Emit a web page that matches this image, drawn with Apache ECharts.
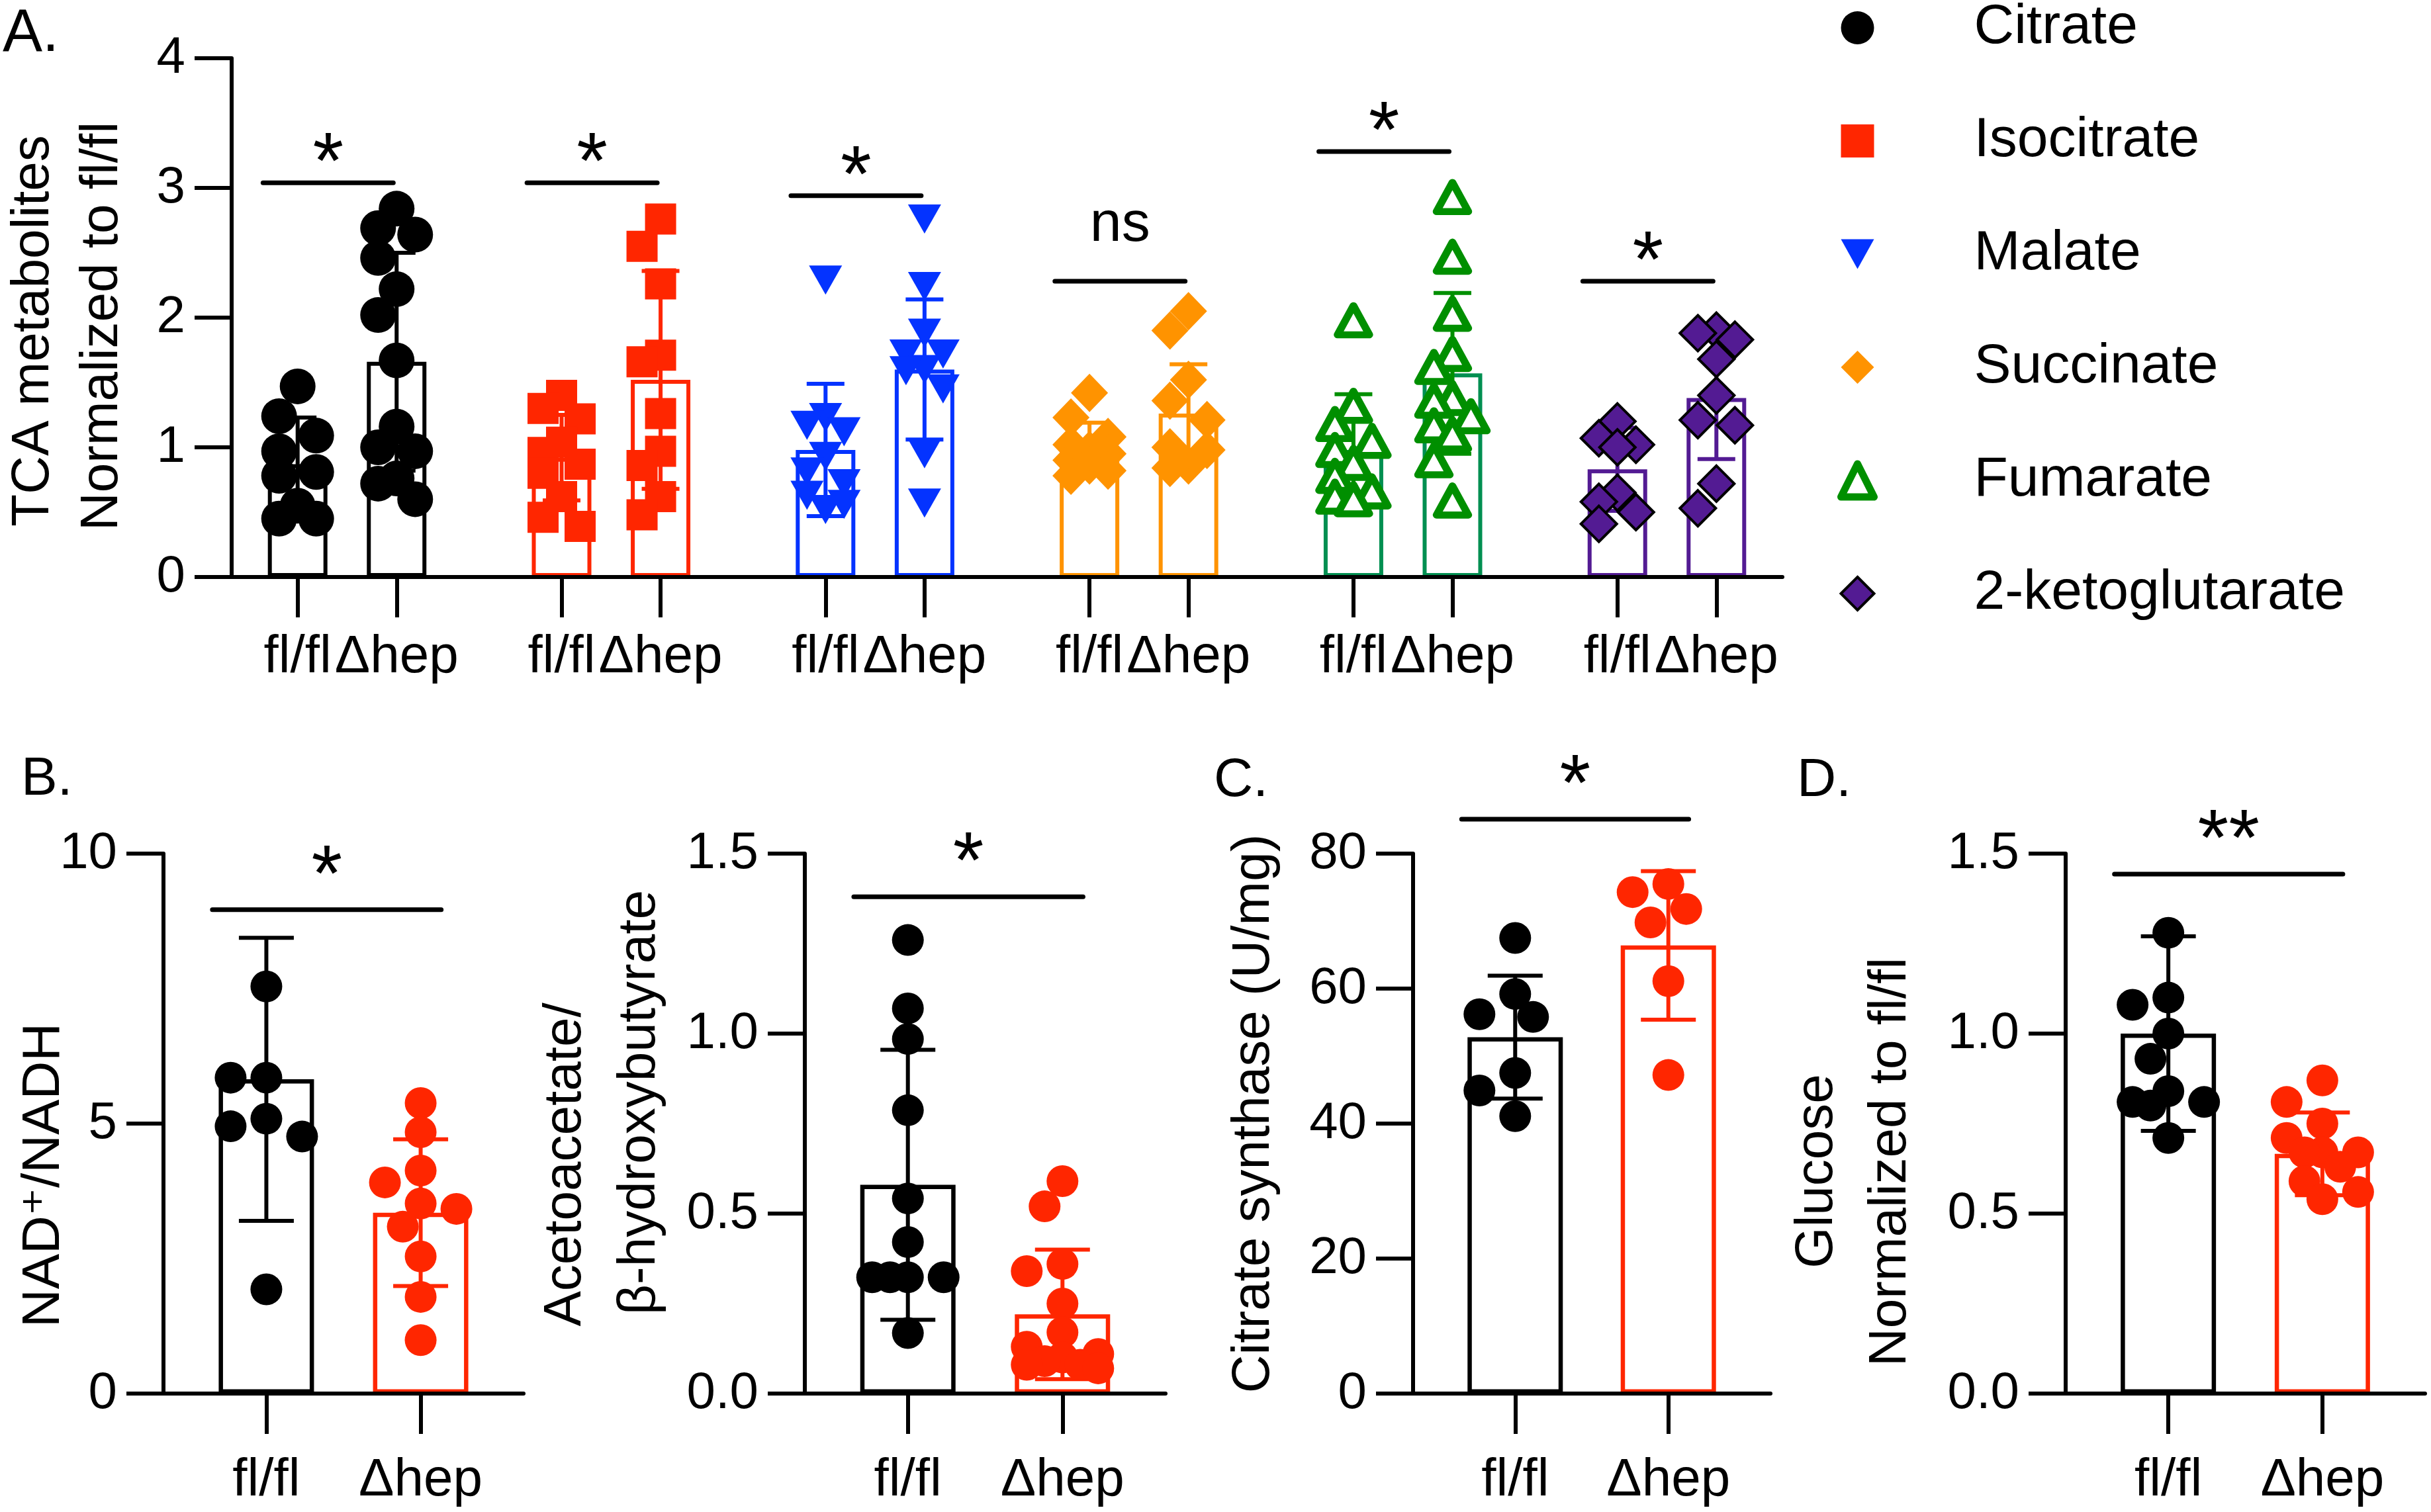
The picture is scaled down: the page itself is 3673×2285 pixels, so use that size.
<!DOCTYPE html>
<html>
<head>
<meta charset="utf-8">
<script src="https://cdn.jsdelivr.net/npm/echarts@6/dist/echarts.min.js"></script>
<style>
html, body { margin: 0; padding: 0; background: #fff; }
#charts { width: 3673px; height: 2285px; }
</style>
</head>
<body>
<div id="charts"></div>
<script>
// categories
var metabolites = ['Citrate', 'Isocitrate', 'Malate', 'Succinate', 'Fumarate', '2-ketoglutarate'];
var genotypes = ['fl/fl', 'Δhep'];

// A. TCA metabolites, normalized to fl/fl (single animals)
var citrateFl = [1.47, 1.24, 1.09, 0.97, 0.81, 0.78, 0.55, 0.45, 0.45];
var citrateHep = [2.84, 2.69, 2.64, 2.46, 2.22, 2.02, 1.67, 1.16, 1.00, 0.97, 0.76, 0.72, 0.60];
var isocitrateFl = [1.40, 1.30, 1.22, 1.04, 0.96, 0.87, 0.80, 0.62, 0.46, 0.39];
var isocitrateHep = [2.76, 2.55, 2.26, 1.71, 1.66, 1.26, 0.97, 0.86, 0.62, 0.48];
var malateFl = [2.29, 1.23, 1.17, 1.12, 0.93, 0.81, 0.72, 0.63, 0.56, 0.52];
var malateHep = [2.76, 2.24, 1.88, 1.72, 1.72, 1.60, 1.59, 1.45, 0.95, 0.57];
var succinateFl = [1.42, 1.23, 1.08, 1.02, 0.98, 0.95, 0.90, 0.86, 0.82, 0.78];
var succinateHep = [2.05, 1.90, 1.52, 1.36, 1.21, 1.00, 0.98, 0.86, 0.84];
var fumarateFl = [1.98, 1.32, 1.18, 1.05, 0.98, 0.88, 0.78, 0.66, 0.62, 0.60];
var fumarateHep = [2.93, 2.47, 2.03, 1.72, 1.62, 1.38, 1.36, 1.24, 1.17, 1.10, 0.90, 0.59];
var ketoFl = [1.20, 1.07, 1.02, 1.00, 0.65, 0.58, 0.50, 0.41];
var ketoHep = [1.90, 1.88, 1.83, 1.68, 1.40, 1.21, 1.17, 0.72, 0.53];
// bar heights (mean) and error bars (SD)
var tcaMeanFl = [0.87, 0.92, 0.98, 0.99, 0.98, 0.83];
var tcaMeanHep = [1.66, 1.52, 1.60, 1.26, 1.57, 1.38];
var tcaSdFl = [0.36, 0.33, 0.51, 0.20, 0.43, 0.32];
var tcaSdHep = [0.84, 0.84, 0.54, 0.38, 0.62, 0.47];
var tcaSigY = [3.04, 3.04, 2.94, 2.28, 3.28, 2.28];
var tcaSigText = ['*', '*', '*', 'ns', '*', '*'];
var tcaTicks = [0, 1, 2, 3, 4];

// B. NAD+/NADH
var nadFl = [7.54, 5.85, 5.85, 5.09, 4.95, 4.76, 1.93];
var nadHep = [5.38, 4.84, 4.13, 3.91, 3.52, 3.42, 3.09, 2.54, 1.79, 0.99];
var nadMean = [5.82, 3.35];
var nadSd = [2.62, 1.36];
var nadSigY = 8.96;
var nadTicks = [0, 5, 10];

// B. acetoacetate / beta-hydroxybutyrate
var ketoneFl = [1.26, 1.07, 0.985, 0.787, 0.542, 0.421, 0.323, 0.323, 0.323, 0.323, 0.168];
var ketoneHep = [0.59, 0.52, 0.36, 0.34, 0.25, 0.17, 0.13, 0.11, 0.10, 0.09, 0.08, 0.08, 0.07];
var ketoneMean = [0.58, 0.22];
var ketoneSd = [0.375, 0.18];
var ketoneSigY = 1.38;
var ketoneTicks = [0, 0.5, 1.0, 1.5];

// C. citrate synthase (U/mg)
var csFl = [67.5, 59.2, 56.2, 55.8, 47.5, 44.9, 41.1];
var csHep = [75.5, 74.3, 71.8, 69.8, 61.1, 47.2];
var csMean = [52.8, 66.4];
var csSd = [9.1, 11.0];
var csSigY = 85.1;
var csTicks = [0, 20, 40, 60, 80];

// D. glucose, normalized to fl/fl
var gluFl = [1.28, 1.10, 1.08, 1.00, 0.93, 0.84, 0.81, 0.81, 0.80, 0.71];
var gluHep = [0.87, 0.81, 0.75, 0.71, 0.67, 0.67, 0.67, 0.63, 0.59, 0.56, 0.54];
var gluMean = [1.00, 0.666];
var gluSd = [0.27, 0.115];
var gluSigY = 1.443;
var gluTicks = [0, 0.5, 1.0, 1.5];

var fam = '"Liberation Sans", Arial, Helvetica, "DejaVu Sans", sans-serif';
var barColors = ['#000000', '#FF2600', '#0433FF', '#FF9300', '#008F51', '#531B93'];
var dotColors = ['#000000', '#FF2600', '#0433FF', '#FF9300', '#008F00', '#531B93'];
var lowColors = ['#000000', '#FF2600'];

var gridRects = [
    { left: 350, top: 88, width: 2343, height: 784 },
    { left: 247, top: 1290, width: 544, height: 816 },
    { left: 1216, top: 1290, width: 545, height: 816 },
    { left: 2135, top: 1290, width: 540, height: 816 },
    { left: 3121, top: 1290, width: 543, height: 816 }
];

// category slots: fl/fl at 2 + 8k, Δhep at 5 + 8k
var catsA = [];
for (var i = 0; i < 48; i++) catsA.push('');
metabolites.forEach(function (m, k) { catsA[2 + 8 * k] = genotypes[0]; catsA[5 + 8 * k] = genotypes[1]; });
var catsLow = ['', '', genotypes[0], '', '', genotypes[1], '', ''];

// spread points sideways so they do not sit on top of each other
function swarm(values, pxPerVal, d, step, maxSteps) {
    var placed = [];
    return values.map(function (v) {
        var y = v * pxPerVal, best = 0, bestGap = -1, cands = [0];
        for (var k = 1; k <= maxSteps; k++) cands.push(-k * step, k * step);
        for (var c = 0; c < cands.length; c++) {
            var gap = Infinity;
            placed.forEach(function (p) { gap = Math.min(gap, Math.hypot(p[0] - cands[c], p[1] - y)); });
            if (gap >= d * 0.9) { best = cands[c]; break; }
            if (gap > bestGap) { bestGap = gap; best = cands[c]; }
        }
        placed.push([best, y]);
        return best;
    });
}

function points(values, slot, grid, nCats, ticks, d, step, maxSteps) {
    var pxY = grid.height / (ticks[ticks.length - 1] - ticks[0]);
    var pxX = grid.width / (nCats - 1);
    var offs = swarm(values, pxY, d, step, maxSteps);
    return values.map(function (v, i) { return [slot + offs[i] / pxX, v]; });
}

function errRender(capW, colors) {
    return function (params, api) {
        var x = api.value(0), m = api.value(1), s = api.value(2);
        var st = { stroke: colors[api.value(3)], lineWidth: 6 };
        var t = api.coord([x, m + s]), b = api.coord([x, m - s]);
        return {
            type: 'group', children: [
                { type: 'line', shape: { x1: t[0], y1: t[1], x2: b[0], y2: b[1] }, style: st },
                { type: 'line', shape: { x1: t[0] - capW / 2, y1: t[1], x2: t[0] + capW / 2, y2: t[1] }, style: st },
                { type: 'line', shape: { x1: b[0] - capW / 2, y1: b[1], x2: b[0] + capW / 2, y2: b[1] }, style: st }
            ]
        };
    };
}

function sigRender(labels, starGap) {
    return function (params, api) {
        var y = api.value(2);
        var p1 = api.coord([api.value(0), y]), p2 = api.coord([api.value(1), y]);
        var lab = labels[params.dataIndex], ns = lab === 'ns';
        return {
            type: 'group', children: [
                { type: 'line', shape: { x1: p1[0], y1: p1[1], x2: p2[0], y2: p2[1] }, style: { stroke: '#000', lineWidth: 7, lineCap: 'round' } },
                { type: 'text', x: (p1[0] + p2[0]) / 2, y: p1[1] - (ns ? 85 : starGap),
                  style: { text: lab, fill: '#000', fontSize: ns ? 86 : 120, fontFamily: fam, align: 'center', verticalAlign: 'middle' } }
            ]
        };
    };
}

function showSlot(idx, val) { return val !== ''; }

var xAxes = [], yAxes = [], series = [];

function addAxes(gi, cats, ticks, decimals, labelMargin) {
    xAxes.push({
        type: 'category', gridIndex: gi, data: cats, boundaryGap: false, z: 6,
        axisLine: { onZero: false, lineStyle: { color: '#000', width: 6 } },
        axisTick: { show: true, interval: showSlot, length: 61, lineStyle: { color: '#000', width: 6 } },
        axisLabel: { interval: showSlot, fontSize: 80, fontFamily: fam, color: '#000', margin: labelMargin },
        splitLine: { show: false }
    });
    xAxes.push({ type: 'value', gridIndex: gi, min: 0, max: cats.length - 1, show: false });
    yAxes.push({
        type: 'value', gridIndex: gi, min: ticks[0], max: ticks[ticks.length - 1], interval: ticks[1] - ticks[0],
        axisLine: { show: true, onZero: false, lineStyle: { color: '#000', width: 6 } },
        axisTick: { show: true, length: 56, lineStyle: { color: '#000', width: 6 } },
        axisLabel: { fontSize: 78, fontFamily: fam, color: '#000', margin: 70,
                     formatter: function (v) { return v.toFixed(decimals); } },
        splitLine: { show: false }
    });
}

// ---- panel A ----
addAxes(0, catsA, tcaTicks, 0, 82);
var tcaFl = [citrateFl, isocitrateFl, malateFl, succinateFl, fumarateFl, ketoFl];
var tcaHep = [citrateHep, isocitrateHep, malateHep, succinateHep, fumarateHep, ketoHep];
var tcaSymbols = [
    { symbol: 'circle', size: 54, style: { color: '#000000' } },
    { symbol: 'rect', size: 47, style: { color: '#FF2600' } },
    { symbol: 'triangle', size: [50, 44], rotate: 180, style: { color: '#0433FF' } },
    { symbol: 'diamond', size: [56, 58], style: { color: '#FF9300' } },
    { symbol: 'triangle', size: [48, 44], style: { color: '#ffffff', borderColor: '#008F00', borderWidth: 11, borderJoin: 'round' } },
    { symbol: 'diamond', size: 54, style: { color: '#531B93', borderColor: '#000000', borderWidth: 4 } }
];

var barA = catsA.map(function () { return '-'; });
var errA = [], sigA = [];
metabolites.forEach(function (m, k) {
    var s1 = 2 + 8 * k, s2 = 5 + 8 * k;
    barA[s1] = { value: tcaMeanFl[k], itemStyle: { borderColor: barColors[k] } };
    barA[s2] = { value: tcaMeanHep[k], itemStyle: { borderColor: barColors[k] } };
    errA.push([s1, tcaMeanFl[k], tcaSdFl[k], k], [s2, tcaMeanHep[k], tcaSdHep[k], k]);
    sigA.push([s1 - 1.05, s2 - 0.1, tcaSigY[k]]);
});
series.push({ type: 'bar', xAxisIndex: 0, yAxisIndex: 0, data: barA, barWidth: 90, z: 2,
              itemStyle: { color: '#ffffff', borderWidth: 6 }, silent: true });
series.push({ type: 'custom', xAxisIndex: 1, yAxisIndex: 0, data: errA, z: 3, clip: false,
              renderItem: errRender(57, dotColors), silent: true });
metabolites.forEach(function (m, k) {
    var sym = tcaSymbols[k];
    var d = Array.isArray(sym.size) ? sym.size[0] : sym.size;
    var data = points(tcaFl[k], 2 + 8 * k, gridRects[0], catsA.length, tcaTicks, d, 28, 1)
        .concat(points(tcaHep[k], 5 + 8 * k, gridRects[0], catsA.length, tcaTicks, d, 28, 1));
    series.push({ type: 'scatter', name: m, xAxisIndex: 1, yAxisIndex: 0, data: data, z: 4,
                  symbol: sym.symbol, symbolSize: sym.size, symbolRotate: sym.rotate || 0,
                  itemStyle: Object.assign({ opacity: 1 }, sym.style), silent: true });
});
series.push({ type: 'custom', xAxisIndex: 1, yAxisIndex: 0, data: sigA, z: 5, clip: false,
              encode: { x: [0, 1], y: 2 }, renderItem: sigRender(tcaSigText, 25), silent: true });

// ---- panels B, C, D ----
var lowPanels = [
    { fl: nadFl, hep: nadHep, mean: nadMean, sd: nadSd, sigY: nadSigY, sig: '*', ticks: nadTicks, dec: 0 },
    { fl: ketoneFl, hep: ketoneHep, mean: ketoneMean, sd: ketoneSd, sigY: ketoneSigY, sig: '*', ticks: ketoneTicks, dec: 1 },
    { fl: csFl, hep: csHep, mean: csMean, sd: csSd, sigY: csSigY, sig: '*', ticks: csTicks, dec: 0 },
    { fl: gluFl, hep: gluHep, mean: gluMean, sd: gluSd, sigY: gluSigY, sig: '**', ticks: gluTicks, dec: 1 }
];
lowPanels.forEach(function (p, n) {
    var gi = n + 1, xc = 2 * gi, xv = 2 * gi + 1;
    addAxes(gi, catsLow, p.ticks, p.dec, 92);
    var bars = catsLow.map(function () { return '-'; });
    bars[2] = { value: p.mean[0], itemStyle: { borderColor: lowColors[0] } };
    bars[5] = { value: p.mean[1], itemStyle: { borderColor: lowColors[1] } };
    series.push({ type: 'bar', xAxisIndex: xc, yAxisIndex: gi, data: bars, barWidth: 144, z: 2,
                  itemStyle: { color: '#ffffff', borderWidth: 6.5 }, silent: true });
    series.push({ type: 'custom', xAxisIndex: xv, yAxisIndex: gi, z: 3, clip: false,
                  data: [[2, p.mean[0], p.sd[0], 0], [5, p.mean[1], p.sd[1], 1]],
                  renderItem: errRender(83, lowColors), silent: true });
    [p.fl, p.hep].forEach(function (vals, g) {
        series.push({ type: 'scatter', name: 'panel' + gi + '-' + genotypes[g], xAxisIndex: xv, yAxisIndex: gi, z: 4,
                      data: points(vals, g === 0 ? 2 : 5, gridRects[gi], catsLow.length, p.ticks, 48, 27, 2),
                      symbol: 'circle', symbolSize: 48, itemStyle: { color: lowColors[g], opacity: 1 }, silent: true });
    });
    series.push({ type: 'custom', xAxisIndex: xv, yAxisIndex: gi, z: 5, clip: false,
                  data: [[2 - 1.05, 5 + 0.4, p.sigY]], encode: { x: [0, 1], y: 2 },
                  renderItem: sigRender([p.sig], 47), silent: true });
});

function label(text, x, y, opts) {
    return Object.assign({ type: 'text', x: x, y: y, silent: true,
        style: { text: text, fill: '#000', fontSize: 80, fontFamily: fam, align: 'center', verticalAlign: 'middle' } }, opts || {});
}
function vlabel(text, x, y) {
    return label(text, x, y, { rotation: Math.PI / 2 });
}
function corner(text, x, y, size) {
    return { type: 'text', x: x, y: y, silent: true,
             style: { text: text, fill: '#000', fontSize: size || 82, fontFamily: fam, align: 'left', verticalAlign: 'middle' } };
}

// legend icons matching the marks
var legendItems = metabolites.map(function (m, k) {
    var item = { name: m };
    if (k === 2) item.icon = 'path://M0,0L10,0L5,9Z';
    if (k === 4) item.itemStyle = { color: '#ffffff', borderColor: '#008F00', borderWidth: 11 };
    if (k === 5) item.itemStyle = { color: '#531B93', borderColor: '#000000', borderWidth: 4 };
    return item;
});

var myChart = echarts.init(document.getElementById('charts'));
var option = {
    animation: false,
    backgroundColor: '#ffffff',
    grid: gridRects.map(function (g) { return Object.assign({ containLabel: false }, g); }),
    xAxis: xAxes,
    yAxis: yAxes,
    legend: {
        data: legendItems, orient: 'vertical', left: 2771, top: -5,
        itemWidth: 50, itemHeight: 50, itemGap: 87, selectedMode: false,
        textStyle: { fontSize: 84, fontFamily: fam, color: '#000', padding: [0, 0, 0, 146] }
    },
    graphic: [
        corner('A.', 4, 52, 90),
        vlabel('TCA metabolites', 51, 500),
        vlabel('Normalized to fl/fl', 155, 493),
        corner('B.', 32, 1178),
        vlabel('NAD⁺/NADH', 67, 1776),
        vlabel('Acetoacetate/', 855, 1760),
        vlabel('β-hydroxybutyrate', 967, 1666),
        corner('C.', 1834, 1180),
        vlabel('Citrate synthase (U/mg)', 1895, 1683),
        corner('D.', 2715, 1180),
        vlabel('Glucose', 2746, 1770),
        vlabel('Normalized to fl/fl', 2857, 1756)
    ],
    series: series
};
myChart.setOption(option);
</script>
</body>
</html>
